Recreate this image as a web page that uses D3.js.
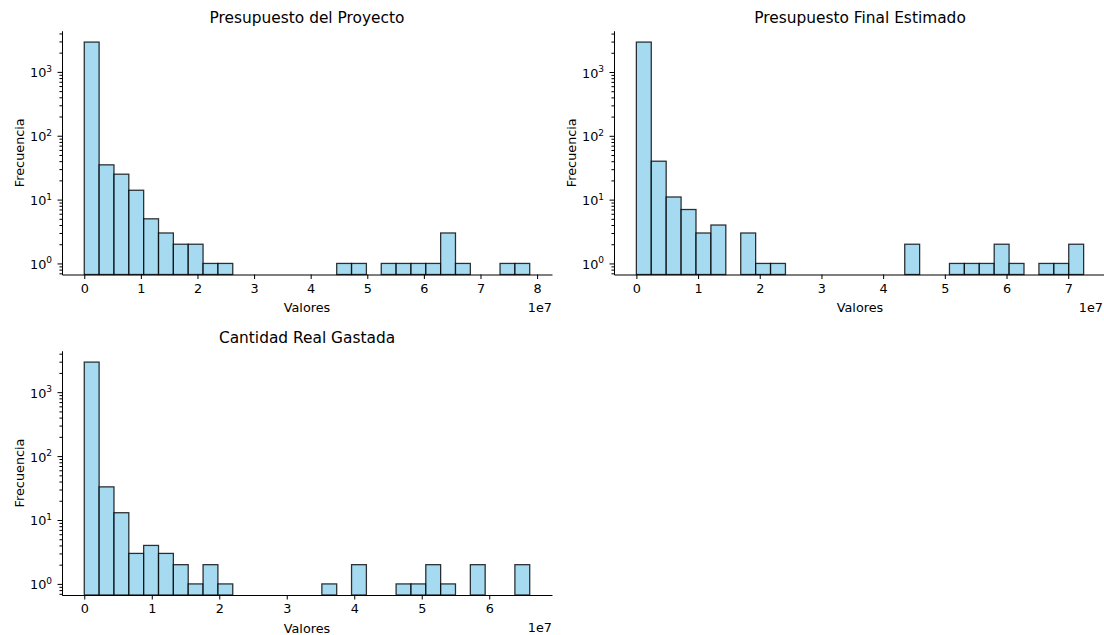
<!DOCTYPE html>
<html>
<head>
<meta charset="utf-8">
<script src="https://cdn.jsdelivr.net/npm/d3@7/dist/d3.min.js"></script>
<style>
body { margin: 0; background: #fff; }
svg { display: block; font-family: "DejaVu Sans", sans-serif; }
</style>
</head>
<body>
<svg id="chart" width="1104" height="635"></svg>
<script>
// histogram counts, 30 bins each
var TITLES = ["Presupuesto del Proyecto", "Presupuesto Final Estimado", "Cantidad Real Gastada"];

var RANGE_PROYECTO = [0, 7.87e7];
var COUNTS_PROYECTO = [2930, 35, 25, 14, 5, 3, 2, 2, 1, 1,
                       0, 0, 0, 0, 0, 0, 0, 1, 1, 0,
                       1, 1, 1, 1, 3, 1, 0, 0, 1, 1];

var RANGE_FINAL = [0, 7.25e7];
var COUNTS_FINAL = [2945, 40, 11, 7, 3, 4, 0, 3, 1, 1,
                    0, 0, 0, 0, 0, 0, 0, 0, 2, 0,
                    0, 1, 1, 1, 2, 1, 0, 1, 1, 2];

var RANGE_GASTADA = [0, 6.6e7];
var COUNTS_GASTADA = [2955, 33, 13, 3, 4, 3, 2, 1, 2, 1,
                      0, 0, 0, 0, 0, 0, 1, 0, 2, 0,
                      0, 1, 1, 2, 1, 0, 2, 0, 0, 2];

var Y_MAJOR = [1, 10, 100, 1000];
var SUPERSCRIPTS = ["0", "1", "2", "3"];
var X_UNIT = 1e7;

var FIG_WIDTH = 1104;
var PT = 1.28; // one matplotlib point in pixels here

var Histos = {

    render : function (svg, panel) {
        var me = this,
            w = panel.width,
            h = panel.height,
            nb = panel.counts.length,
            lo = panel.range[0],
            hi = panel.range[1],
            span = hi - lo;

        var g = svg.append("g")
            .attr("transform", "translate(" + panel.left + "," + panel.top + ")");

        var x = d3.scaleLinear()
            .domain([lo - span * 0.05, hi + span * 0.05])
            .range([0, w]);

        var logMax = Math.log10(d3.max(panel.counts)),
            pad = logMax * 0.05;
        var y = d3.scaleLog()
            .domain([Math.pow(10, -pad), Math.pow(10, logMax + pad)])
            .range([h, 0]);

        var bins = panel.counts.map(function (c, i) {
            return {
                x0 : lo + span * i / nb,
                x1 : lo + span * (i + 1) / nb,
                count : c
            };
        }).filter(function (b) {
            return b.count > 0;
        });

        g.selectAll("rect.bar")
            .data(bins)
            .enter()
            .append("rect")
                .attr("class", "bar")
                .attr("x", function (b) { return x(b.x0); })
                .attr("width", function (b) { return x(b.x1) - x(b.x0); })
                .attr("y", function (b) { return y(b.count); })
                .attr("height", function (b) { return h - y(b.count); })
                .attr("fill", "#87ceeb")
                .attr("fill-opacity", 0.75)
                .attr("stroke", "#000")
                .attr("stroke-opacity", 0.8)
                .attr("stroke-width", PT);

        // x axis
        var xTicks = d3.range(0, Math.floor(x.domain()[1] / X_UNIT) + 1).map(function (k) {
            return k * X_UNIT;
        });
        var xAxis = g.append("g")
            .attr("transform", "translate(0," + h + ")")
            .call(d3.axisBottom(x)
                .tickValues(xTicks)
                .tickFormat(function (d) { return d / X_UNIT; })
                .tickSize(3.5 * PT)
                .tickSizeOuter(0)
                .tickPadding(3.5 * PT));
        me.styleAxis(xAxis);

        // y axis, minor ticks first
        var minor = [];
        for (var e = -1; e < 5; e++) {
            for (var k = 2; k < 10; k++) {
                var v = k * Math.pow(10, e);
                if (v >= y.domain()[0] && v <= y.domain()[1]) {
                    minor.push(v);
                }
            }
        }
        var yMinor = g.append("g")
            .call(d3.axisLeft(y)
                .tickValues(minor)
                .tickFormat("")
                .tickSize(2 * PT)
                .tickSizeOuter(0));
        me.styleAxis(yMinor);

        var yAxis = g.append("g")
            .call(d3.axisLeft(y)
                .tickValues(Y_MAJOR)
                .tickFormat("")
                .tickSize(3.5 * PT)
                .tickSizeOuter(0));
        me.styleAxis(yAxis);

        yAxis.selectAll(".tick").each(function (d, i) {
            var t = d3.select(this).append("text")
                .attr("x", -3.5 * PT - 4.5 - 1)
                .attr("y", 5)
                .attr("text-anchor", "end")
                .attr("fill", "#000")
                .attr("font-size", 12.8);
            t.append("tspan").text("10");
            t.append("tspan")
                .attr("dy", -5.5)
                .attr("font-size", 9)
                .text(SUPERSCRIPTS[i]);
        });

        // labels
        g.append("text")
            .attr("x", w / 2)
            .attr("y", -8.5)
            .attr("text-anchor", "middle")
            .attr("font-size", 15.4)
            .attr("fill", "#000")
            .text(panel.title);

        g.append("text")
            .attr("x", w / 2)
            .attr("y", h + 37.5)
            .attr("text-anchor", "middle")
            .attr("font-size", 12.8)
            .attr("fill", "#000")
            .text("Valores");

        // offset text sits at the axes' right end, kept inside the figure
        g.append("text")
            .attr("x", Math.min(w, FIG_WIDTH - panel.left - 1))
            .attr("y", h + 37)
            .attr("text-anchor", "end")
            .attr("font-size", 12.8)
            .attr("fill", "#000")
            .text("1e7");

        g.append("text")
            .attr("transform", "translate(" + (-38.5) + "," + (h / 2) + ") rotate(-90)")
            .attr("text-anchor", "middle")
            .attr("font-size", 12.8)
            .attr("fill", "#000")
            .text("Frecuencia");

        return g;
    },

    styleAxis : function (axis) {
        axis.attr("font-family", null).attr("font-size", 12.8);
        axis.select(".domain")
            .attr("stroke", "#000")
            .attr("stroke-width", 0.8 * PT);
        axis.selectAll(".tick line")
            .attr("stroke", "#000")
            .attr("stroke-width", 0.8 * PT);
        axis.selectAll(".tick text")
            .attr("fill", "#000");
    }
};

var svg = d3.select("#chart");

Histos.render(svg, {
    title : TITLES[0], range : RANGE_PROYECTO, counts : COUNTS_PROYECTO,
    left : 62, top : 31, width : 490, height : 243.5
});
Histos.render(svg, {
    title : TITLES[1], range : RANGE_FINAL, counts : COUNTS_FINAL,
    left : 614, top : 31, width : 492, height : 243.5
});
Histos.render(svg, {
    title : TITLES[2], range : RANGE_GASTADA, counts : COUNTS_GASTADA,
    left : 62, top : 351, width : 490, height : 244
});
</script>
</body>
</html>
